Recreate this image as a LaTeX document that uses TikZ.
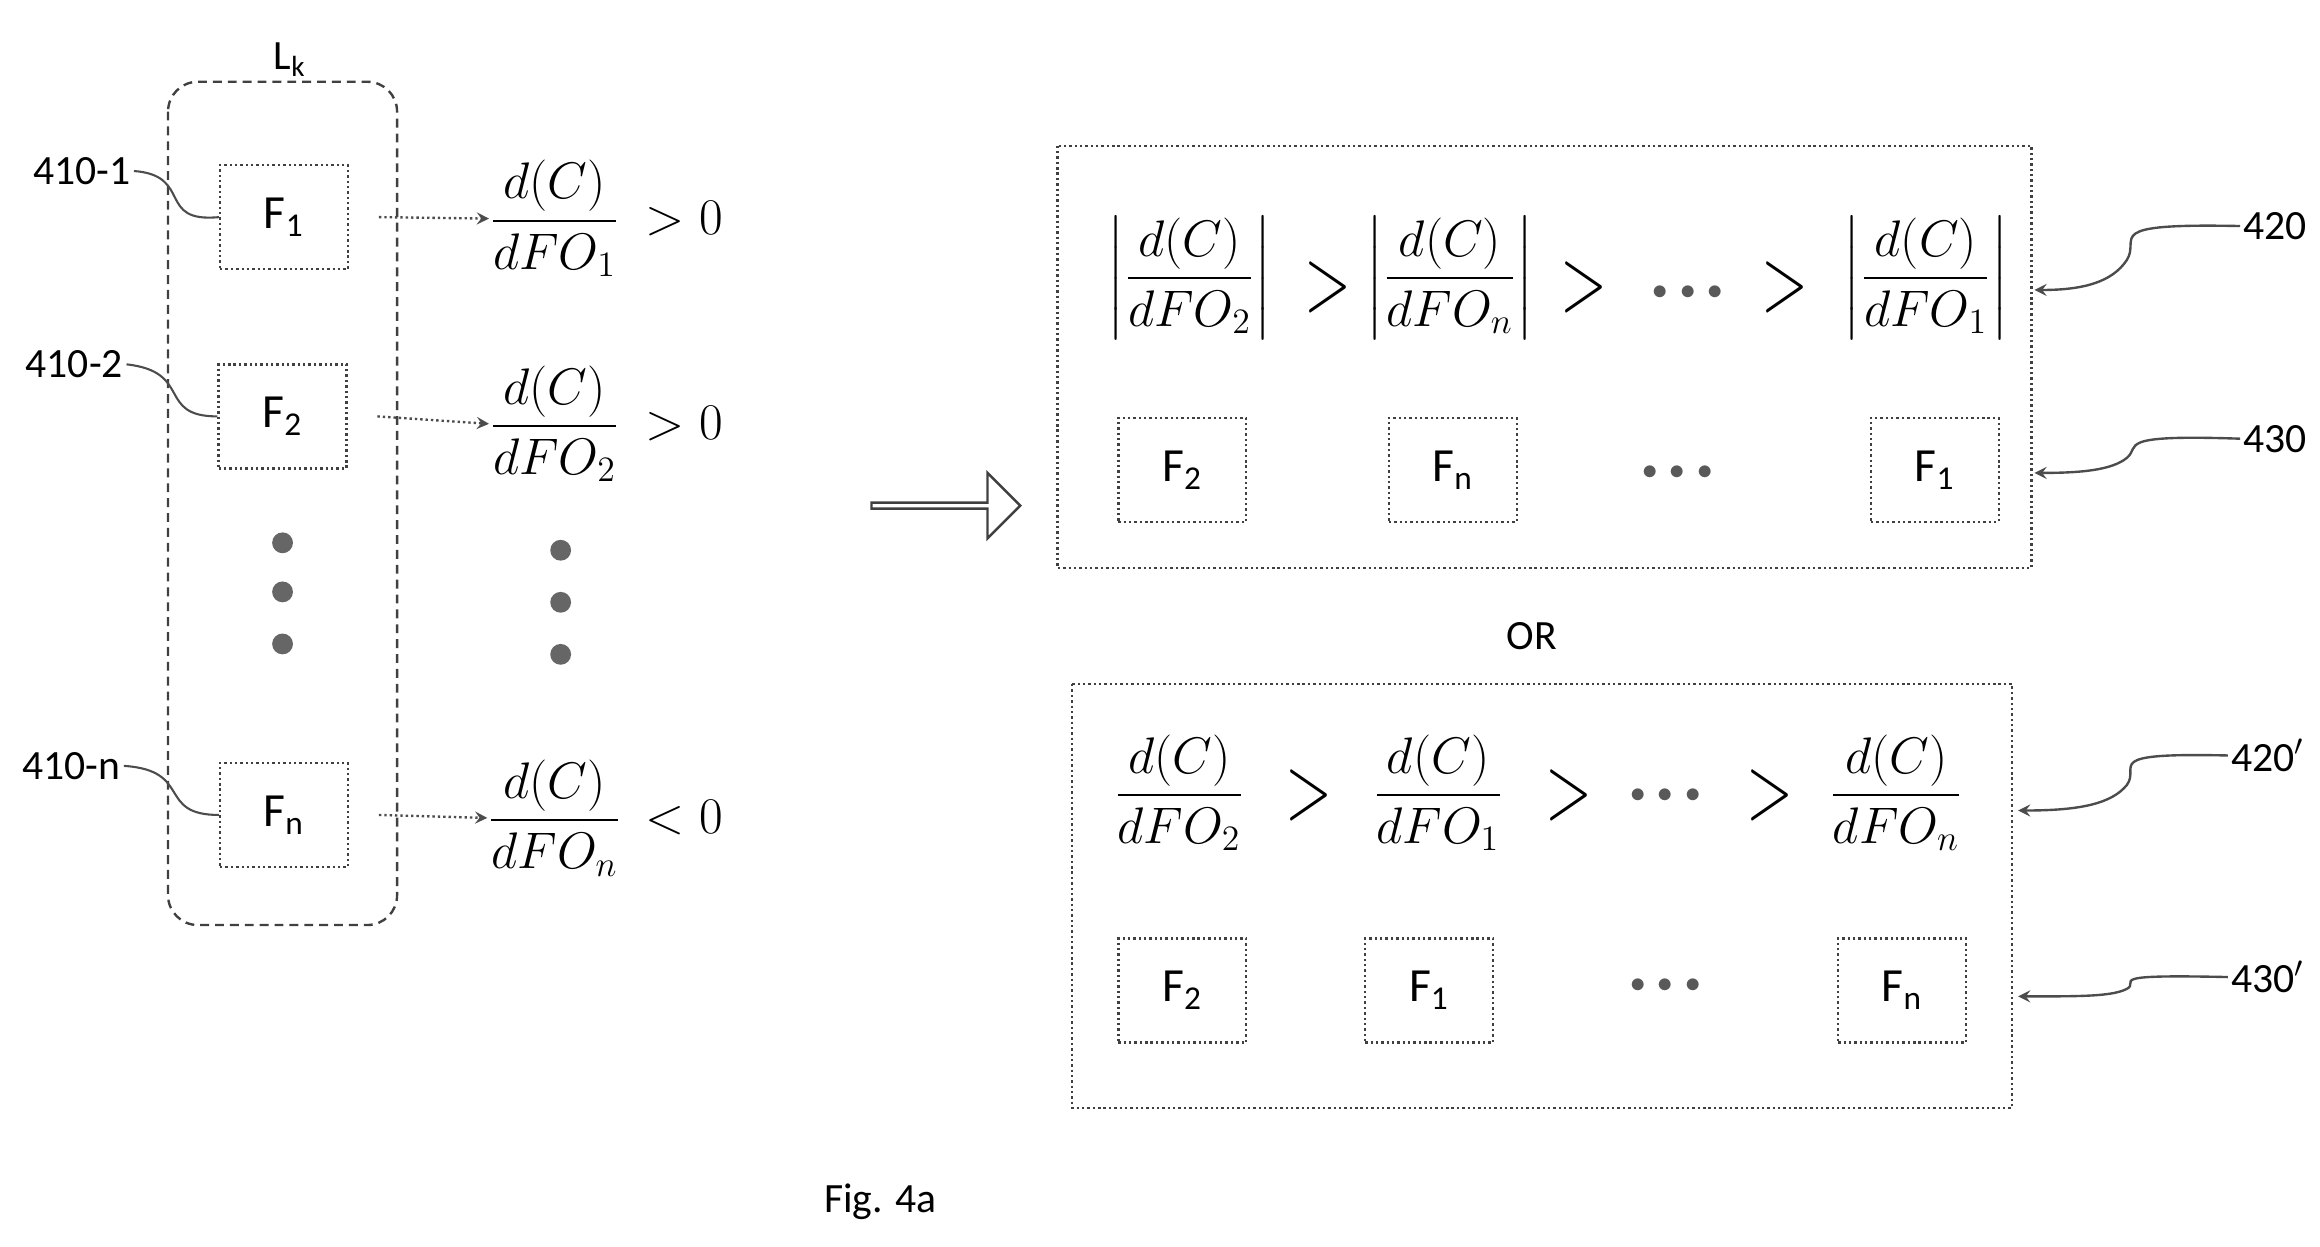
\documentclass[tikz,border=0pt]{standalone}
\usepackage{amsmath}
\usepackage{fontspec}
\setmainfont{Carlito}
\usetikzlibrary{positioning,shapes.arrows}
\tikzset{
  fbox/.style={draw=black!75,densely dotted,line width=0.8pt,minimum width=43pt,minimum height=35pt,inner sep=0pt,font=\fontsize{16}{18}\selectfont},
  frac/.style={inner sep=0pt,font=\fontsize{18}{20}\selectfont},
  lbl/.style={inner sep=1pt,font=\fontsize{14}{16}\selectfont},
  gt/.style={inner sep=0pt,font=\fontsize{18}{20}\selectfont},
  dot/.style={circle,fill=black!60,minimum size=7pt,inner sep=0pt},
  lead/.style={black!70,line width=0.7pt},
  pt/.style={-stealth,black!70,densely dotted,line width=0.8pt}
}
\newcommand{\dfo}[1]{$\dfrac{d(C)}{dFO_{#1}}$}
\newcommand{\adfo}[1]{$\left|\dfrac{d(C)}{dFO_{#1}}\right|$}
\newcommand{\bgt}{\scalebox{1.2}[1.8]{$>$}}
\newcommand{\mdots}{\textcolor{black!65}{\scalebox{0.6}{$\bullet\,\bullet\,\bullet$}}}
\begin{document}
\begin{tikzpicture}[x=0.5pt,y=0.5pt,yscale=-1]
\useasboundingbox (0,0) rectangle (1560,838);
% left layer
\draw[black!75,densely dashed,line width=0.8pt,rounded corners=10pt] (113,55) rectangle (267,622);
\node[lbl] (lk) at (195,40) {L\textsubscript{k}};
\node[fbox] (f1) at (191,146) {F\textsubscript{1}};
\node[fbox] (f2) at (190,280) {F\textsubscript{2}};
\node[fbox] (fn) at (191,548) {F\textsubscript{n}};
\foreach \y in {365,398,433} \node[dot] at (190,\y) {};
\foreach \y in {370,405,440} \node[dot] at (377,\y) {};
\node[frac] (d1) at (373,147) {\dfo{1}};
\node[frac] (d2) at (373,285) {\dfo{2}};
\node[frac] (dn) at (373,550) {\dfo{n}};
\node[gt] at (460,147) {$>0$};
\node[gt] at (460,285) {$>0$};
\node[gt] at (460,550) {$<0$};
\draw[pt] (f1.east) ++(10pt,0) coordinate (a1) -- (d1.west);
\draw[pt] (f2.east) ++(10pt,0) coordinate (a2) -- (d2.west);
\draw[pt] (fn.east) ++(10pt,0) coordinate (an) -- (dn.west);
% leaders
\node[lbl] (l1) at (55,115) {410-1};
\node[lbl] (l2) at (50,245) {410-2};
\node[lbl] (ln) at (48,515) {410-n};
\draw[lead] (l1.east) .. controls (130,118) and (105,150) .. (f1.west);
\draw[lead] (l2.east) .. controls (130,250) and (105,280) .. (f2.west);
\draw[lead] (ln.east) .. controls (130,518) and (105,548) .. (fn.west);
% hollow arrow
\node[single arrow,draw=black!75,line width=0.8pt,minimum height=50pt,minimum width=22pt,single arrow head extend=4pt,inner sep=0pt] (big) at (635,340) {};
% top box
\draw[black!75,densely dotted,line width=0.8pt] (711,98) rectangle (1366,382);
\node[frac] (t1) at (800,187) {\adfo{2}};
\node[gt] at (893,193) {\bgt};
\node[frac] (t2) at (975,187) {\adfo{n}};
\node[gt] at (1065,193) {\bgt};
\node[gt] at (1135,197) {\mdots};
\node[gt] at (1200,193) {\bgt};
\node[frac] (t3) at (1295,187) {\adfo{1}};
\node[fbox] (b1) at (795,316) {F\textsubscript{2}};
\node[fbox] (b2) at (977,316) {F\textsubscript{n}};
\node[gt] at (1128,318) {\mdots};
\node[fbox] (b3) at (1301,316) {F\textsubscript{1}};
\node[lbl] (n420) at (1530,152) {420};
\node[lbl] (n430) at (1530,295) {430};
\coordinate (e420) at (1368,195);
\coordinate (e430) at (1368,318);
\draw[pt,solid] (n420.west) .. controls (1410,150) and (1440,160) .. (1430,175) .. controls (1420,190) and (1400,195) .. (e420);
\draw[pt,solid] (n430.west) .. controls (1420,292) and (1440,300) .. (1430,308) .. controls (1420,316) and (1400,318) .. (e430);
% or
\node[lbl] (or) at (1030,428) {OR};
% bottom box
\draw[black!75,densely dotted,line width=0.8pt] (721,460) rectangle (1353,745);
\node[frac] (u1) at (793,533) {\dfo{2}};
\node[gt] at (880,535) {\bgt};
\node[frac] (u2) at (967,533) {\dfo{1}};
\node[gt] at (1055,535) {\bgt};
\node[gt] at (1120,535) {\mdots};
\node[gt] at (1190,535) {\bgt};
\node[frac] (u3) at (1275,533) {\dfo{n}};
\node[fbox] (c1) at (795,666) {F\textsubscript{2}};
\node[fbox] (c2) at (961,666) {F\textsubscript{1}};
\node[gt] at (1120,663) {\mdots};
\node[fbox] (c3) at (1279,666) {F\textsubscript{n}};
\node[lbl] (n420p) at (1525,508) {420$'$};
\node[lbl] (n430p) at (1525,657) {430$'$};
\coordinate (e420p) at (1357,545);
\coordinate (e430p) at (1357,670);
\draw[pt,solid] (n420p.west) .. controls (1410,506) and (1440,515) .. (1430,528) .. controls (1420,540) and (1400,545) .. (e420p);
\draw[pt,solid] (n430p.west) .. controls (1410,655) and (1440,660) .. (1430,665) .. controls (1420,670) and (1400,670) .. (e430p);
\node[lbl] (fig) at (592,808) {Fig. 4a};
\end{tikzpicture}
\end{document}
